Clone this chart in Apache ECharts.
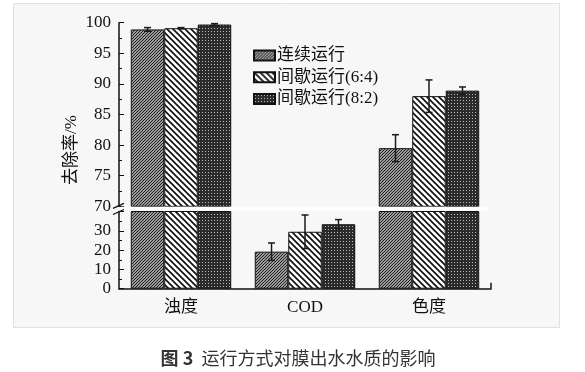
<!DOCTYPE html>
<html><head><meta charset="utf-8">
<script src="https://cdn.jsdelivr.net/npm/echarts@6/dist/echarts.min.js"></script>
<style>html,body{margin:0;padding:0;background:#fff}#c{width:585px;height:372px}</style>
</head><body><div id="c"></div>
<script>
// ---- data ----
const categories = ['浊度', 'COD', '色度'];
const seriesNames = ['连续运行', '间歇运行(6:4)', '间歇运行(8:2)'];
const continuousVals = [98.9, 19.2, 79.5];
const continuousErr = [0.3, 4.5, 2.2];
const inter64Vals = [99.1, 29.5, 88.0];
const inter64Err = [0.1, 8.7, 2.65];
const inter82Vals = [99.7, 33.4, 88.9];
const inter82Err = [0.15, 2.4, 0.6];
const upperRange = [70, 100];
const lowerRange = [0, 40];
const yAxisName = '去除率/%';
const caption = '运行方式对膜出水水质的影响';

const vals = [continuousVals, inter64Vals, inter82Vals];
const errs = [continuousErr, inter64Err, inter82Err];

// ---- patterns ----
function pat(w, h, draw) {
  const c = document.createElement('canvas'); c.width = w; c.height = h;
  const g = c.getContext('2d'); draw(g, w, h);
  return { image: c, repeat: 'repeat' };
}
const p1 = pat(3, 3, (g, w, h) => {
  g.fillStyle = '#d0d0d0'; g.fillRect(0, 0, w, h);
  g.strokeStyle = '#1e1e1e'; g.lineWidth = 1.15;
  [[0, 3, 3, 0], [-1, 1, 1, -1], [2, 4, 4, 2]].forEach(l => { g.beginPath(); g.moveTo(l[0], l[1]); g.lineTo(l[2], l[3]); g.stroke(); });
});
const p2 = pat(6, 6, (g, w, h) => {
  g.fillStyle = '#fff'; g.fillRect(0, 0, w, h);
  g.strokeStyle = '#111'; g.lineWidth = 1.7;
  [[0, 0, 6, 6], [-1, 5, 1, 7], [5, -1, 7, 1]].forEach(l => { g.beginPath(); g.moveTo(l[0], l[1]); g.lineTo(l[2], l[3]); g.stroke(); });
});
const p3 = pat(3, 3, (g, w, h) => {
  g.fillStyle = '#2b2b2b'; g.fillRect(0, 0, w, h);
  g.fillStyle = '#b8b8b8'; g.fillRect(1, 1, 1, 1);
});
const pats = [p1, p2, p3];

const FONT = '"Liberation Serif", "Noto Sans CJK SC", serif';
const GAP = 0.19;

const chart = echarts.init(document.getElementById('c'), null, { renderer: 'canvas' });

const series = [];
[0, 1].forEach(gi => {
  seriesNames.forEach((n, si) => {
    series.push({
      type: 'bar', name: n, xAxisIndex: gi, yAxisIndex: gi,
      data: vals[si], barGap: '0%', barCategoryGap: (GAP * 100) + '%',
      itemStyle: { color: pats[si], borderColor: '#111', borderWidth: 1 },
      emphasis: { disabled: true }, animation: false
    });
  });
});
[0, 1].forEach(gi => {
  const lo = gi === 0 ? upperRange[0] : lowerRange[0];
  const hi = gi === 0 ? upperRange[1] : lowerRange[1];
  seriesNames.forEach((n, si) => {
    series.push({
      type: 'custom', xAxisIndex: gi, yAxisIndex: gi, clip: false, z: 5, silent: true,
      data: categories.map((c, i) => [i, vals[si][i], errs[si][i]]),
      renderItem: (params, api) => {
        const v = api.value(1), e = api.value(2);
        if (v < lo || v > hi) return;
        const c = api.coord([api.value(0), v]);
        const band = api.size([1, 0])[0];
        const bw = band * (1 - GAP) / 3;
        const x = c[0] + (si - 1) * bw;
        const t = api.coord([api.value(0), v + e])[1];
        const b = api.coord([api.value(0), v - e])[1];
        const st = { stroke: '#1a1a1a', lineWidth: 1.5 };
        return { type: 'group', children: [
          { type: 'line', shape: { x1: x, y1: t, x2: x, y2: b }, style: st },
          { type: 'line', shape: { x1: x - 3.5, y1: t, x2: x + 3.5, y2: t }, style: st },
          { type: 'line', shape: { x1: x - 3.5, y1: b, x2: x + 3.5, y2: b }, style: st }
        ] };
      },
      animation: false
    });
  });
});

const axisLbl = { color: '#111', fontFamily: FONT, fontSize: 17 };
chart.setOption({
  animation: false,
  backgroundColor: '#fff',
  grid: [
    { left: 119, width: 372, top: 22.7, height: 183.6 },
    { left: 119, width: 372, top: 211.5, height: 77.2 }
  ],
  legend: {
    data: seriesNames, orient: 'vertical', left: 248, top: 42,
    icon: 'rect', itemWidth: 21, itemHeight: 10, itemGap: 4.7,
    textStyle: { fontFamily: FONT, fontSize: 17, color: '#111', lineHeight: 17, padding: [0, 0, 0, -3] },
    selectedMode: false
  },
  xAxis: [
    { type: 'category', gridIndex: 0, data: categories, axisLine: { show: false }, axisTick: { show: false }, axisLabel: { show: false } },
    { type: 'category', gridIndex: 1, data: categories,
      axisLine: { lineStyle: { color: '#111', width: 1.5 } }, axisTick: { show: false },
      axisLabel: Object.assign({ margin: 10 }, axisLbl) }
  ],
  yAxis: [
    { type: 'value', gridIndex: 0, min: upperRange[0], max: upperRange[1], interval: 5,
      axisLine: { show: true, lineStyle: { color: '#111', width: 1.5 } },
      axisTick: { show: true, inside: true, length: 5, lineStyle: { color: '#111' } },
      minorTick: { show: true, splitNumber: 2, length: 3, lineStyle: { color: '#111' } },
      splitLine: { show: false }, axisLabel: Object.assign({ margin: 8 }, axisLbl) },
    { type: 'value', gridIndex: 1, min: lowerRange[0], max: lowerRange[1], interval: 10,
      axisLine: { show: true, lineStyle: { color: '#111', width: 1.5 } },
      axisTick: { show: true, inside: true, length: 5, lineStyle: { color: '#111' } },
      minorTick: { show: true, splitNumber: 2, length: 3, lineStyle: { color: '#111' } },
      splitLine: { show: false },
      axisLabel: Object.assign({ margin: 8, formatter: v => (v >= lowerRange[1] ? '' : String(v)) }, axisLbl) }
  ],
  series: series
});

// decorations
const yBreak = chart.convertToPixel({ yAxisIndex: 0 }, upperRange[0]);
const yLowTop = chart.convertToPixel({ yAxisIndex: 1 }, lowerRange[1]);
const yZero = chart.convertToPixel({ yAxisIndex: 1 }, 0);
const xL = 119, xR = 491;
chart.setOption({
  graphic: [
    { type: 'rect', z: -10, silent: true, shape: { x: 13.5, y: 3.5, width: 546, height: 324 }, style: { fill: '#f7f7f7', stroke: '#dbe3e3', lineWidth: 1 } },
    { type: 'rect', z: 10, silent: true, shape: { x: xL + 2, y: yBreak + 0.5, width: xR - xL - 4, height: yLowTop - yBreak - 1.5 }, style: { fill: '#fff' } },
    { type: 'line', z: 10, silent: true, shape: { x1: xL - 6, y1: yBreak + 2, x2: xL + 5, y2: yBreak - 3 }, style: { stroke: '#111', lineWidth: 1.3 } },
    { type: 'line', z: 10, silent: true, shape: { x1: xL - 6, y1: yLowTop + 3, x2: xL + 5, y2: yLowTop - 2 }, style: { stroke: '#111', lineWidth: 1.3 } },
    { type: 'line', z: 10, silent: true, shape: { x1: xR, y1: yZero, x2: xR, y2: yZero - 6 }, style: { stroke: '#111', lineWidth: 1.5 } },
    { type: 'text', z: 10, silent: true, x: 72, y: 150, rotation: Math.PI / 2,
      style: { text: yAxisName, fontFamily: FONT, fontSize: 17, fill: '#111', textAlign: 'center', textVerticalAlign: 'middle' } },
    { type: 'text', z: 10, silent: true, x: 298, y: 358,
      style: { text: '{b|图 3}  ' + caption, fontFamily: '"Noto Sans CJK SC", sans-serif', fontSize: 18, fill: '#333', textAlign: 'center', textVerticalAlign: 'middle',
        rich: { b: { fontWeight: 'bold', fontSize: 18, fill: '#333', fontFamily: '"Noto Sans CJK SC", sans-serif' } } } }
  ]
});
</script>
</body></html>
